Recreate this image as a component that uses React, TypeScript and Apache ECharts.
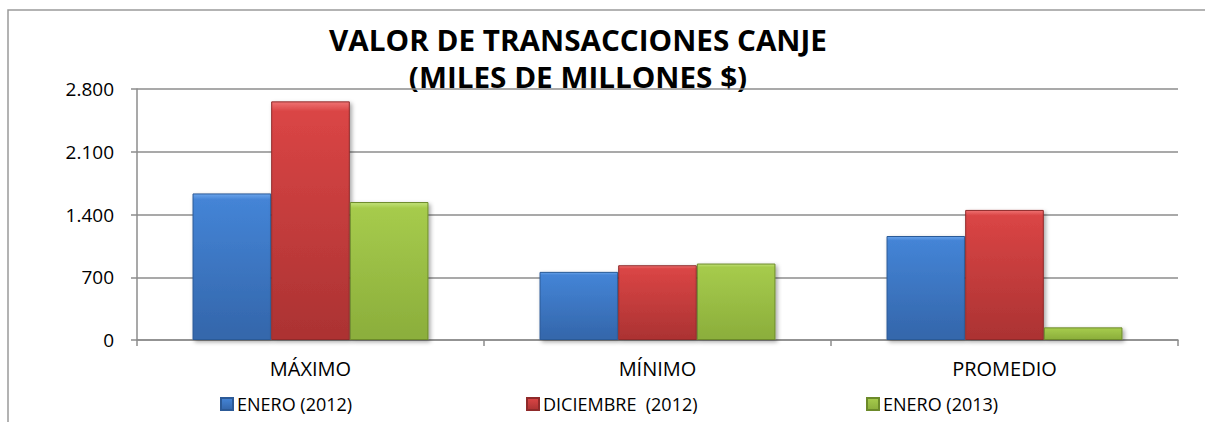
import React, { useEffect, useRef } from "react";
import * as echarts from "echarts";

const categories = ["MÁXIMO", "MÍNIMO", "PROMEDIO"];
const seriesNames = ["ENERO (2012)", "DICIEMBRE  (2012)", "ENERO (2013)"];
const enero2012 = [1635, 760, 1160];
const diciembre2012 = [2662, 834, 1451];
const enero2013 = [1539, 853, 141];
const yTicks = [0, 700, 1400, 2100, 2800];
const titleLines = ["VALOR DE TRANSACCIONES CANJE", "(MILES DE MILLONES $)"];

const FONT = "'Open Sans', 'DejaVu Sans', sans-serif";

function grad(light: string, mid: string, dark: string) {
  return new echarts.graphic.LinearGradient(0, 0, 0, 1, [
    { offset: 0, color: light },
    { offset: 0.04, color: mid },
    { offset: 0.96, color: dark },
    { offset: 1, color: dark },
  ]);
}

const palettes = [
  { light: "#6aa3ea", mid: "#4484d6", dark: "#3467ac", border: "#2c5a97", icon: "#3f7cc9" },
  { light: "#ef7272", mid: "#da4545", dark: "#ad3333", border: "#8f2a2a", icon: "#c63c3c" },
  { light: "#c2e27a", mid: "#a6cb4c", dark: "#8caf3c", border: "#6c8a2a", icon: "#9cc045" },
];

export default function App() {
  const ref = useRef<HTMLDivElement>(null);
  useEffect(() => {
    if (!ref.current) return;
    const chart = echarts.init(ref.current, undefined, { renderer: "svg" });
    const data = [enero2012, diciembre2012, enero2013];
    const legendLefts = [220, 526, 866];
    chart.setOption({
      animation: false,
      backgroundColor: "#ffffff",
      graphic: [
        {
          type: "rect",
          shape: { x: 8, y: 10, width: 1400, height: 600 },
          style: { fill: "none", stroke: "#9a9a9a", lineWidth: 1.5 },
          silent: true,
        },
        {
          type: "text",
          x: 578,
          y: 40,
          scaleX: 1.06,
          style: {
            text: titleLines[0],
            font: `bold 28px ${FONT}`,
            fill: "#000",
            textAlign: "center",
            textVerticalAlign: "middle",
          },
        },
        {
          type: "text",
          x: 578,
          y: 77,
          scaleX: 1.06,
          style: {
            text: titleLines[1],
            font: `bold 28px ${FONT}`,
            fill: "#000",
            textAlign: "center",
            textVerticalAlign: "middle",
          },
        },
      ],
      legend: seriesNames.map((n, i) => ({
        data: [n],
        left: legendLefts[i],
        top: 395,
        itemWidth: 12,
        itemHeight: 12,
        itemGap: 0,
        padding: 0,
        icon: "rect",
        textStyle: { fontFamily: FONT, fontSize: 18, color: "#000", padding: [0, 0, 0, -1] },
      })),
      grid: { left: 137, right: 27, top: 89, bottom: 82 },
      xAxis: {
        type: "category",
        data: categories,
        axisLine: { lineStyle: { color: "#8c8c8c", width: 1.5 } },
        axisTick: { show: true, length: 6, lineStyle: { color: "#8c8c8c", width: 1.5 } },
        axisLabel: { fontFamily: FONT, fontSize: 20, color: "#000", margin: 18 },
      },
      yAxis: {
        type: "value",
        min: yTicks[0],
        max: yTicks[yTicks.length - 1],
        interval: yTicks[1] - yTicks[0],
        axisLine: { show: true, lineStyle: { color: "#8c8c8c", width: 1.5 } },
        axisTick: { show: true, length: 6, lineStyle: { color: "#8c8c8c", width: 1.5 } },
        splitLine: { lineStyle: { color: "#8c8c8c", width: 1.5 } },
        axisLabel: {
          fontFamily: FONT,
          fontSize: 19,
          color: "#000",
          margin: 23,
          formatter: (v: number) => v.toString().replace(/\B(?=(\d{3})+(?!\d))/g, "."),
        },
      },
      series: seriesNames.map((n, i) => ({
        name: n,
        type: "bar",
        data: data[i],
        barGap: "0%",
        barCategoryGap: "32%",
        itemStyle: {
          color: grad(palettes[i].light, palettes[i].mid, palettes[i].dark),
          borderColor: palettes[i].border,
          borderWidth: 1,
          shadowColor: "rgba(0,0,0,0.35)",
          shadowBlur: 4,
          shadowOffsetX: 2,
          shadowOffsetY: 2,
        },
      })),
      color: palettes.map((p) => p.icon),
    });
    return () => chart.dispose();
  }, []);
  return (
    <div
      ref={ref}
      style={{ position: "fixed", left: 0, top: 0, width: 1205, height: 422 }}
    />
  );
}
